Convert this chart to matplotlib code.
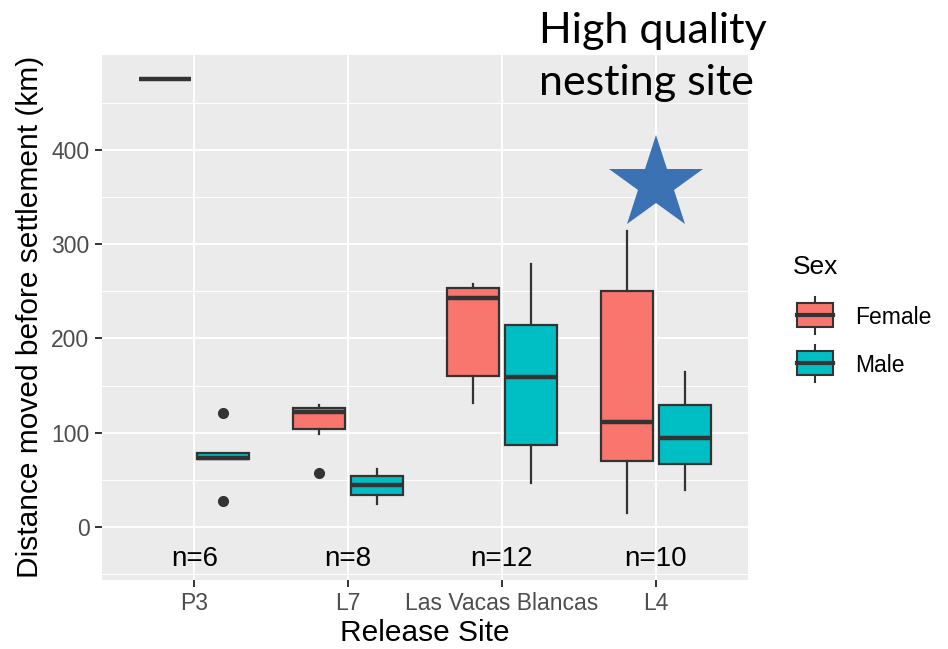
import matplotlib.pyplot as plt
import numpy as np
from matplotlib.patches import Rectangle

sites = ['P3', 'L7', 'Las Vacas Blancas', 'L4']
n_labels = ['n=6', 'n=8', 'n=12', 'n=10']

# female boxes (km)
f_med = [475, 122, 243, 111]
f_q1 = [475, 104, 160, 70]
f_q3 = [475, 126, 253, 250]
f_lo = [475, 99, 132, 15]
f_hi = [475, 129, 258, 314]
f_out = [[], [57], [], []]

# male boxes
m_med = [73, 44.5, 159, 95]
m_q1 = [72, 34, 87, 67]
m_q3 = [79, 54, 214, 129]
m_lo = [72, 25, 47, 39]
m_hi = [79, 62, 279, 165]
m_out = [[121, 28], [], [], []]

star_site = 4
star_y = 364

c_f = '#F8766D'
c_m = '#00BFC4'
dark = '#333333'
font = 'Liberation Sans'

plt.rcParams['font.family'] = font

fig = plt.figure(figsize=(9.48, 6.49), dpi=100)
ax = fig.add_axes([102 / 948, 69 / 649, 646 / 948, 525 / 649])
ax.set_facecolor('#EBEBEB')
for sp in ax.spines.values():
    sp.set_visible(False)


def make_stats(med, q1, q3, lo, hi, out):
    return [dict(med=a, q1=b, q3=c, whislo=d, whishi=e, fliers=f)
            for a, b, c, d, e, f in zip(med, q1, q3, lo, hi, out)]


x = np.arange(1, len(sites) + 1)
off = 0.1875
w = 0.3375
for stats, pos, col in [(make_stats(f_med, f_q1, f_q3, f_lo, f_hi, f_out), x - off, c_f),
                        (make_stats(m_med, m_q1, m_q3, m_lo, m_hi, m_out), x + off, c_m)]:
    ax.bxp(stats, positions=pos, widths=w, patch_artist=True, showcaps=False,
           boxprops=dict(facecolor=col, edgecolor=dark, linewidth=1.6),
           medianprops=dict(color=dark, linewidth=3.2, solid_capstyle='butt'),
           whiskerprops=dict(color=dark, linewidth=1.6),
           flierprops=dict(marker='o', markerfacecolor=dark, markeredgecolor=dark,
                           markersize=7, linestyle='none'),
           manage_ticks=False)

for xi, lab in zip(x, n_labels):
    ax.text(xi, -34, lab, ha='center', va='center', fontsize=20, color='black')

ax.plot(star_site, star_y, marker='*', markersize=71, color='#3A72B4',
        markeredgewidth=0, clip_on=False, zorder=10)

ax.set_xlim(0.4, 4.6)
ax.set_ylim(-56, 500.5)
ax.set_xticks(x)
ax.set_xticklabels(sites)
ax.set_yticks([0, 100, 200, 300, 400])
ax.set_yticks(np.arange(-50, 500, 100), minor=True)
ax.tick_params(which='major', colors=dark, labelcolor='#4D4D4D', length=5,
               width=1.4, labelsize=16.5, pad=4)
ax.tick_params(which='minor', length=0)
ax.set_axisbelow(True)
ax.grid(which='major', color='white', linewidth=1.4)
ax.grid(which='minor', axis='y', color='white', linewidth=0.7)

# overlay in pixel units for titles, legend and annotation
ov = fig.add_axes([0, 0, 1, 1])
ov.set_xlim(0, 948)
ov.set_ylim(649, 0)
ov.axis('off')
ov.patch.set_alpha(0)

ov.text(30, 317, 'Distance moved before settlement (km)', rotation=90,
        ha='center', va='center', fontsize=21.5)
ov.text(425, 633, 'Release Site', ha='center', va='center', fontsize=21.5)

ov.text(539, 43, 'High quality', ha='left', va='baseline', fontsize=31,
        family='Lato')
ov.text(539, 95, 'nesting site', ha='left', va='baseline', fontsize=31,
        family='Lato')

# legend
ov.text(793, 267, 'Sex', ha='left', va='center', fontsize=19)
for cy, col, lab in [(315, c_f, 'Female'), (363, c_m, 'Male')]:
    ov.plot([815, 815], [cy - 18, cy + 19], color=dark, lw=1.5)
    ov.add_patch(Rectangle((797, cy - 12), 36, 24, facecolor=col,
                           edgecolor=dark, lw=1.5, zorder=3))
    ov.plot([797, 833], [cy, cy], color=dark, lw=3, zorder=4)
    ov.text(855, cy + 2, lab, ha='left', va='center', fontsize=16.5)

fig.savefig('out.png', dpi=100)
